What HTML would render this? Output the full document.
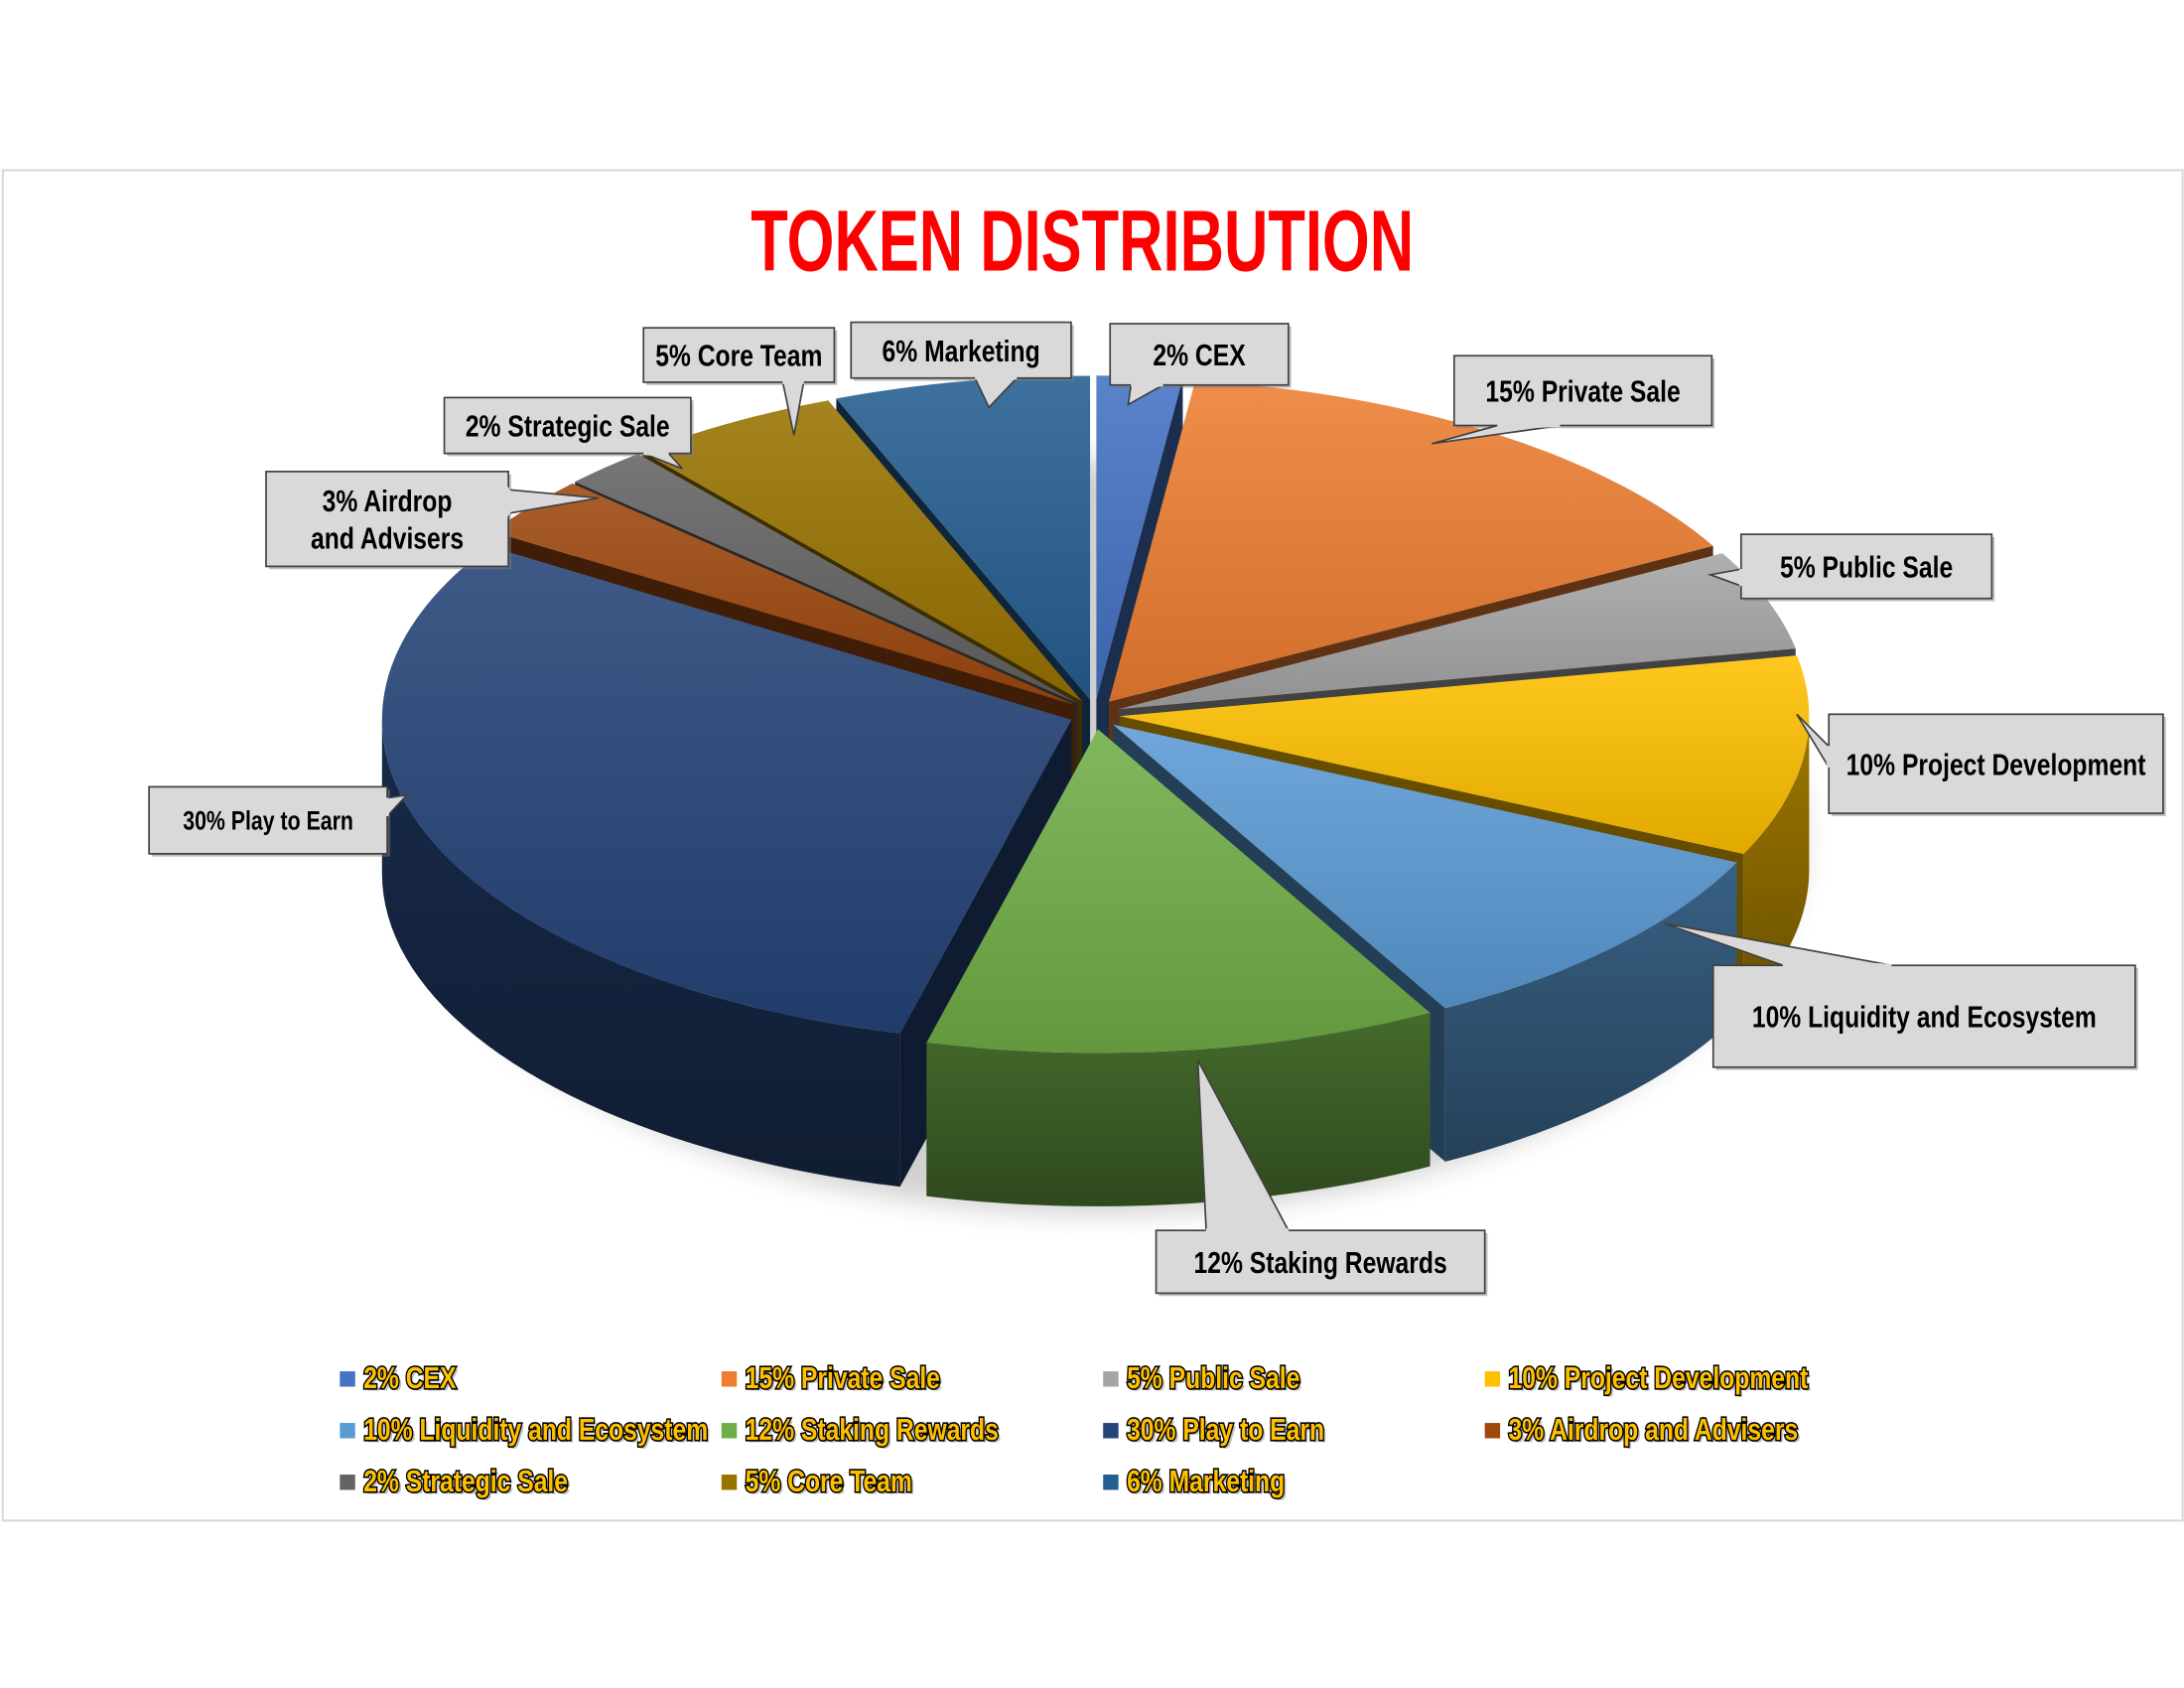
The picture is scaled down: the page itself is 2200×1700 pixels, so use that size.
<!DOCTYPE html>
<html><head><meta charset="utf-8"><style>
html,body{margin:0;padding:0;background:#fff;}
svg{display:block;}
.lbl{font-family:"Liberation Sans Narrow","Liberation Sans",sans-serif;font-weight:bold;fill:#000;}
.leg{font-family:"Liberation Sans Narrow","Liberation Sans",sans-serif;font-weight:bold;fill:#FFC000;stroke:#000;stroke-width:2.4;paint-order:stroke;}
</style></head><body>
<svg id="chart" width="2200" height="1700" viewBox="0 0 1568 1210" preserveAspectRatio="none" xmlns="http://www.w3.org/2000/svg">
<defs id="defs">
<filter id="blur" x="-20%" y="-20%" width="140%" height="140%"><feGaussianBlur stdDeviation="10"/></filter>
</defs>
<rect x="2" y="122" width="1565" height="968" fill="#fff" stroke="#d9d9d9" stroke-width="1.5"/>
<text x="777" y="194" text-anchor="middle" textLength="476" lengthAdjust="spacingAndGlyphs" style="font-family:'Liberation Sans Narrow','Liberation Sans',sans-serif;font-weight:bold;font-size:62px;fill:#FF0000;">TOKEN DISTRIBUTION</text>
<ellipse cx="790" cy="600" rx="505" ry="270" fill="#000" opacity="0.18" filter="url(#blur)"/>
<g id="pie"></g>
<g id="callouts"></g>
<g id="legend"></g>
</svg>
<script>
const categories=["2% CEX","15% Private Sale","5% Public Sale","10% Project Development","10% Liquidity and Ecosystem","12% Staking Rewards","30% Play to Earn","3% Airdrop and Advisers","2% Strategic Sale","5% Core Team","6% Marketing"];
const values=[2,15,5,10,10,12,30,3,2,5,6];
const colors=["#4472C4","#ED7D31","#A5A5A5","#FFC000","#5B9BD5","#70AD47","#264478","#9E480E","#636363","#997300","#255E91"];

const NS="http://www.w3.org/2000/svg";
const cx=786,cy=512,rx=495,ry=232,depth=110,ex=18;
function shade(hex,f){let n=parseInt(hex.slice(1),16);let r=(n>>16)&255,g=(n>>8)&255,b=n&255;
 const c=v=>Math.max(0,Math.min(255,Math.round(f>1?v+(255-v)*(f-1):v*f)));return "rgb("+c(r)+","+c(g)+","+c(b)+")";}
function mk(tag,attrs,parent){const e=document.createElementNS(NS,tag);for(const k in attrs)e.setAttribute(k,attrs[k]);parent.appendChild(e);return e;}
function pt(t,ox,oy,dz){return [cx+ox+rx*Math.sin(t),cy+oy-ry*Math.cos(t)+dz];}
function squeeze(t,f){const w=t.getComputedTextLength();if(w>0){t.setAttribute('textLength',(w*f).toFixed(1));t.setAttribute('lengthAdjust','spacingAndGlyphs');}}
const defs=document.getElementById('defs');
const pie=document.getElementById('pie');
const total=values.reduce((a,b)=>a+b,0);
let acc=0;const slices=[];
values.forEach((v,i)=>{const a0=acc/total*2*Math.PI;acc+=v;const a1=acc/total*2*Math.PI;slices.push({i,a0,a1,mid:(a0+a1)/2});});
slices.sort((a,b)=>(-Math.cos(a.mid))-(-Math.cos(b.mid)));
slices.forEach(s=>{
 const i=s.i,col=colors[i];
 const ox=ex*Math.sin(s.mid),oy=-ex*Math.cos(s.mid)*0.6;
 const g=mk('g',{},pie);
 
 
 const c0=[cx+ox,cy+oy];
 [[s.a0,s.a0-Math.PI/2],[s.a1,s.a1+Math.PI/2]].forEach(([a,phi])=>{
  if(Math.cos(phi)<0){const p=pt(a,ox,oy,0),q=pt(a,ox,oy,depth);
   mk('polygon',{points:[c0,p,q,[c0[0],c0[1]+depth]].map(x=>x.join(',')).join(' '),fill:shade(col,0.4)},g);}
 });
 const s0=Math.max(s.a0,Math.PI/2),e0=Math.min(s.a1,3*Math.PI/2);
 if(e0>s0){const top=[],bot=[];const n=40;
  for(let k=0;k<=n;k++){const t=s0+(e0-s0)*k/n;top.push(pt(t,ox,oy,0));bot.push(pt(t,ox,oy,depth));}
  const gid='w'+i;const lg=mk('linearGradient',{id:gid,x1:0,y1:0,x2:0,y2:1},defs);
  mk('stop',{offset:0,'stop-color':shade(col,0.62)},lg);mk('stop',{offset:1,'stop-color':shade(col,0.42)},lg);
  mk('polygon',{points:top.concat(bot.reverse()).map(x=>x.join(',')).join(' '),fill:'url(#'+gid+')'},g);}
 const tp=[c0];const n=Math.max(6,Math.round((s.a1-s.a0)*40));
 for(let k=0;k<=n;k++){tp.push(pt(s.a0+(s.a1-s.a0)*k/n,ox,oy,0));}
 const tid='t'+i;const lt=mk('linearGradient',{id:tid,x1:0,y1:0,x2:0,y2:1},defs);
 mk('stop',{offset:0,'stop-color':shade(col,1.12)},lt);mk('stop',{offset:1,'stop-color':shade(col,0.88)},lt);
 mk('polygon',{points:tp.map(x=>x.join(',')).join(' '),fill:'url(#'+tid+')'},g);
});

const callouts=[
 {t:["2% CEX"],b:[797,232,128,44],p:[[812,276],[835,276],[810,290]],fs:22},
 {t:["15% Private Sale"],b:[1044,255,185,50],p:[[1075,305],[1120,305],[1028,318]],fs:22},
 {t:["5% Public Sale"],b:[1250,383,180,46],p:[[1250,408],[1250,420],[1228,412]],fs:22},
 {t:["10% Project Development"],b:[1313,512,240,71],p:[[1313,535],[1313,550],[1290,512]],fs:22},
 {t:["10% Liquidity and Ecosystem"],b:[1230,692,303,73],p:[[1280,692],[1358,692],[1195,662]],fs:22},
 {t:["12% Staking Rewards"],b:[830,882,236,45],p:[[866,882],[925,882],[860,760]],fs:22},
 {t:["30% Play to Earn"],b:[107,564,171,48],p:[[278,572],[278,585],[292,570]],fs:19},
 {t:["3% Airdrop","and Advisers"],b:[191,338,174,68],p:[[365,351],[365,368],[430,357]],fs:22},
 {t:["2% Strategic Sale"],b:[319,285,177,40],p:[[462,325],[480,325],[490,336]],fs:22},
 {t:["5% Core Team"],b:[462,235,137,39],p:[[562,274],[577,274],[570,312]],fs:22},
 {t:["6% Marketing"],b:[611,231,158,40],p:[[700,271],[730,271],[710,292]],fs:22}
];
const cg=document.getElementById('callouts');
callouts.forEach(c=>{
 const g=mk('g',{},cg);
 
 
 const [x,y,w,h]=c.b;
 mk('rect',{x:x+2,y:y+2,width:w,height:h,fill:'#7f7f7f',opacity:0.5},g);
 mk('rect',{x,y,width:w,height:h,fill:'#d9d9d9',stroke:'#404040','stroke-width':1.2},g);
 mk('polygon',{points:c.p.map(q=>q.join(',')).join(' '),fill:'#d9d9d9',stroke:'#404040','stroke-width':1.2},g);
 const mx=(c.p[0][0]+c.p[1][0])/2,my=(c.p[0][1]+c.p[1][1])/2;
 mk('polygon',{points:[c.p[0],c.p[1],[mx+(c.p[2][0]-mx)*0.1,my+(c.p[2][1]-my)*0.1]].map(q=>q.join(',')).join(' '),fill:'#d9d9d9',stroke:'#d9d9d9','stroke-width':2},g);
 const lh=c.fs*1.2;const y0=y+h/2-(c.t.length-1)*lh/2+c.fs*0.36;
 c.t.forEach((line,k)=>{const te=mk('text',{x:x+w/2,y:y0+k*lh,'text-anchor':'middle','font-size':c.fs,class:'lbl'},g);te.textContent=line;squeeze(te,0.8);});
});

const lg=document.getElementById('legend');
const colX=[244,518,792,1066],rowY=[986,1023,1060];
categories.forEach((cat,i)=>{
 const x=colX[i%4],y=rowY[Math.floor(i/4)];
 const g=mk('g',{},lg);
 
 
 mk('rect',{x,y:y-3,width:11,height:11,fill:colors[i]},g);
 const sh=mk('text',{x:x+19,y:y+11,'font-size':22,fill:'#999',style:"font-family:'Liberation Sans Narrow','Liberation Sans',sans-serif;font-weight:bold;",opacity:0.6},g);sh.textContent=cat;
 const t=mk('text',{x:x+17,y:y+9,'font-size':22,class:'leg'},g);t.textContent=cat;
 squeeze(sh,0.8);squeeze(t,0.8);
});
</script>
</body></html>
